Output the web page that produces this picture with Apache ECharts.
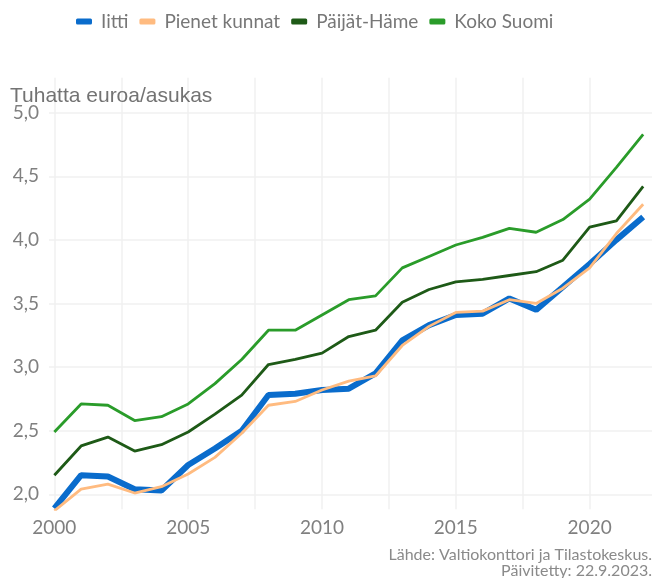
<!DOCTYPE html>
<html>
<head>
<meta charset="utf-8">
<script src="https://cdn.jsdelivr.net/npm/echarts@6/dist/echarts.min.js"></script>
<style>
  html, body { margin: 0; padding: 0; background: #fff; }
  #chart { width: 653px; height: 578px; }
</style>
</head>
<body>
<div id="chart"></div>
<script>
// vuodet ja sarjat (tuhatta euroa / asukas)
const years = [2000, 2001, 2002, 2003, 2004, 2005, 2006, 2007, 2008, 2009, 2010,
  2011, 2012, 2013, 2014, 2015, 2016, 2017, 2018, 2019, 2020, 2021, 2022];

const iitti = [1.89, 2.15, 2.14, 2.04, 2.03, 2.23, 2.36, 2.50, 2.78, 2.79, 2.82,
  2.83, 2.95, 3.21, 3.33, 3.41, 3.42, 3.54, 3.45, 3.63, 3.81, 4.00, 4.18];
const pienetKunnat = [1.87, 2.04, 2.08, 2.01, 2.06, 2.16, 2.29, 2.48, 2.70, 2.73, 2.82,
  2.89, 2.93, 3.17, 3.32, 3.43, 3.44, 3.53, 3.50, 3.62, 3.78, 4.05, 4.28];
const paijatHame = [2.15, 2.38, 2.45, 2.34, 2.39, 2.49, 2.63, 2.78, 3.02, 3.06, 3.11,
  3.24, 3.29, 3.51, 3.61, 3.67, 3.69, 3.72, 3.75, 3.84, 4.10, 4.15, 4.42];
const kokoSuomi = [2.49, 2.71, 2.70, 2.58, 2.61, 2.71, 2.87, 3.06, 3.29, 3.29, 3.41,
  3.53, 3.56, 3.78, 3.87, 3.96, 4.02, 4.09, 4.06, 4.16, 4.32, 4.57, 4.83];

const xGridValues = [2000, 2002.5, 2005, 2007.5, 2010, 2012.5, 2015, 2017.5, 2020];
const xLabelValues = [2000, 2005, 2010, 2015, 2020];
const yTickValues = [2.0, 2.5, 3.0, 3.5, 4.0, 4.5, 5.0];

const pairs = (vals) => years.map((y, i) => [y, vals[i]]);

const chart = echarts.init(document.getElementById('chart'));

const gridColor = '#f0f0f0';
const tickFont = { fontFamily: 'Lato', fontSize: 19, color: '#808080' };
const captionStyle = { font: '16px Lato', fill: '#8a8a8a', align: 'right' };

chart.setOption({
  animation: false,
  backgroundColor: '#fff',
  textStyle: { fontFamily: 'Lato' },
  title: {
    text: 'Tuhatta euroa/asukas',
    left: 5,
    top: 81,
    textStyle: { fontFamily: 'Liberation Sans', fontSize: 21, fontWeight: 'normal', color: '#737373' }
  },
  graphic: [
    { type: 'text', right: 1, top: 547, style: { text: 'Lähde: Valtiokonttori ja Tilastokeskus.', ...captionStyle } },
    { type: 'text', right: 1, top: 563, style: { text: 'Päivitetty: 22.9.2023.', ...captionStyle } }
  ],
  legend: {
    left: 71,
    top: 7,
    itemWidth: 16,
    itemHeight: 6,
    itemGap: 11,
    icon: 'roundRect',
    textStyle: { fontFamily: 'Lato', fontSize: 19, color: '#777', padding: [0, 0, 0, 4] },
    data: ['Iitti', 'Pienet kunnat', 'Päijät-Häme', 'Koko Suomi']
  },
  grid: { left: 49, right: 1, top: 77.7, bottom: 68.7, containLabel: false },
  xAxis: {
    type: 'value',
    min: 1999.8,
    max: 2022.33,
    axisLine: { show: false },
    axisTick: { show: false, customValues: xGridValues },
    axisLabel: { customValues: xLabelValues, margin: 9, ...tickFont, formatter: (v) => String(v) },
    splitLine: { show: true, lineStyle: { color: gridColor, width: 1.5 } }
  },
  yAxis: {
    type: 'value',
    min: 1.882,
    max: 5.275,
    axisLine: { show: false },
    axisTick: { show: false, customValues: yTickValues },
    axisLabel: {
      customValues: yTickValues,
      margin: 10,
      ...tickFont,
      formatter: (v) => v.toFixed(1).replace('.', ',')
    },
    splitLine: { show: true, lineStyle: { color: gridColor, width: 1.5 } }
  },
  series: [
    { name: 'Koko Suomi', type: 'line', data: pairs(kokoSuomi), showSymbol: false, lineStyle: { width: 2.8, color: '#2a9c2a' }, itemStyle: { color: '#2a9c2a' } },
    { name: 'Päijät-Häme', type: 'line', data: pairs(paijatHame), showSymbol: false, lineStyle: { width: 2.8, color: '#1e5a17' }, itemStyle: { color: '#1e5a17' } },
    { name: 'Iitti', type: 'line', data: pairs(iitti), showSymbol: false, lineStyle: { width: 6, color: '#0a6ccc' }, itemStyle: { color: '#0a6ccc' } },
    { name: 'Pienet kunnat', type: 'line', data: pairs(pienetKunnat), showSymbol: false, lineStyle: { width: 2.8, color: '#ffbb80' }, itemStyle: { color: '#ffbb80' } }
  ]
});
</script>
</body>
</html>
